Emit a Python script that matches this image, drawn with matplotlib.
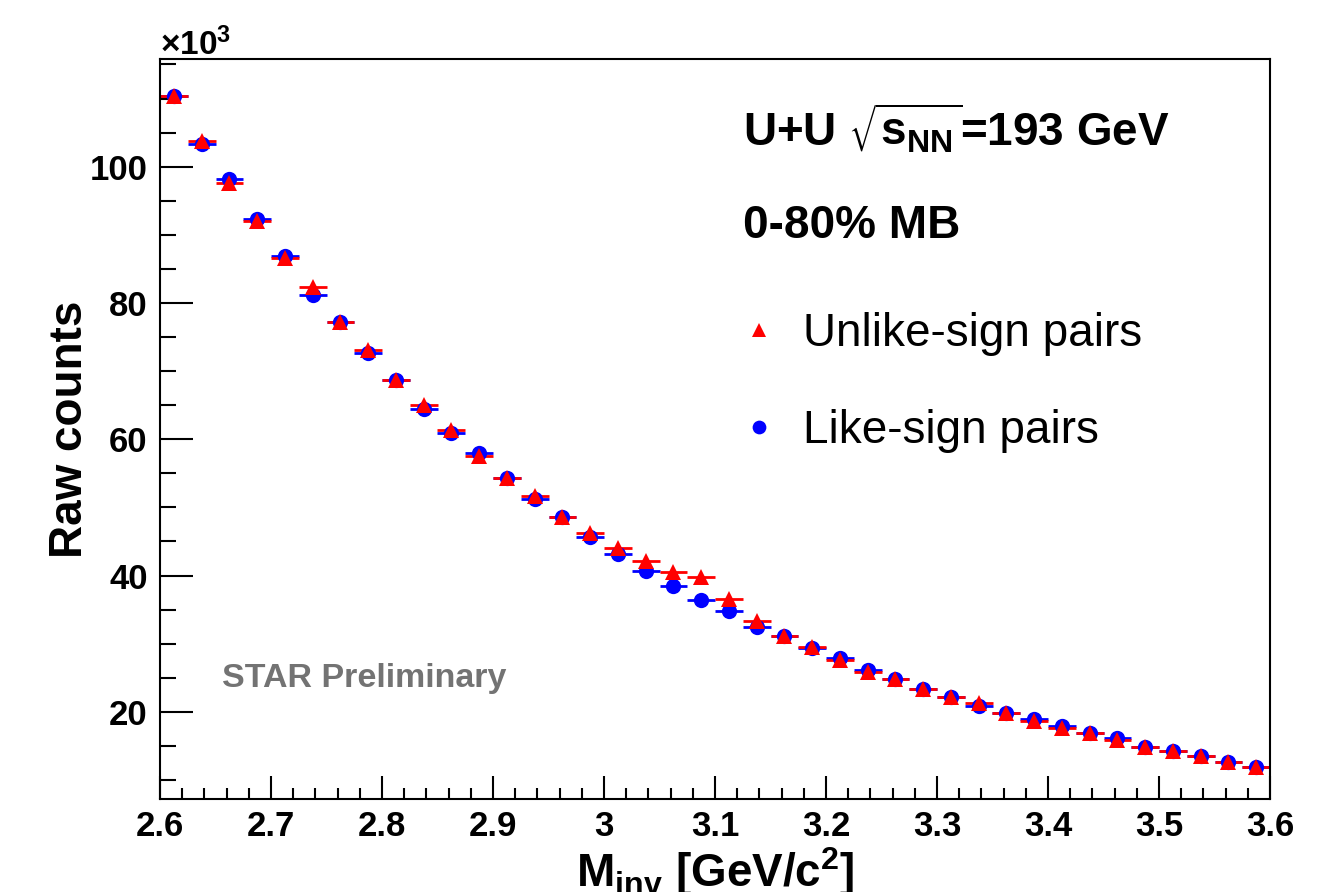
import numpy as np
import matplotlib
matplotlib.use('Agg')
import matplotlib.pyplot as plt
from matplotlib.ticker import MultipleLocator, FuncFormatter

plt.rcParams['font.family'] = ['Liberation Sans', 'DejaVu Sans']
plt.rcParams['mathtext.default'] = 'regular'

# histogram binning, 40 bins of 25 MeV
bin_edges = np.linspace(2.6, 3.6, 41)
mass = 0.5 * (bin_edges[:-1] + bin_edges[1:])
half_width = 0.5 * (bin_edges[1:] - bin_edges[:-1])

# raw counts in units of 10^3
unlike = [110.3, 103.8, 97.6, 92.0, 86.6, 82.3, 77.2, 73.1, 68.7, 65.0,
          61.4, 57.6, 54.3, 51.7, 48.6, 46.3, 44.0, 42.2, 40.5, 39.8,
          36.6, 33.3, 31.1, 29.5, 27.6, 25.9, 24.8, 23.4, 22.2, 21.3,
          19.8, 18.7, 17.6, 16.9, 15.8, 14.9, 14.2, 13.5, 12.6, 11.9]
like = [110.3, 103.3, 98.2, 92.3, 86.9, 81.1, 77.2, 72.7, 68.7, 64.4,
        60.9, 58.0, 54.3, 51.2, 48.6, 45.7, 43.1, 40.6, 38.4, 36.4,
        34.8, 32.5, 31.1, 29.3, 27.9, 26.1, 24.8, 23.4, 22.2, 20.9,
        19.8, 19.0, 17.9, 16.9, 16.2, 14.9, 14.2, 13.5, 12.6, 11.9]

W, H = 1342, 892
fig = plt.figure(figsize=(W / 100, H / 100), dpi=100)
ax = fig.add_axes([160 / W, (H - 799) / H, 1110 / W, 740 / H])

ax.errorbar(mass, like, xerr=half_width, fmt='none', ecolor='blue',
            elinewidth=2, capsize=0, zorder=2)
ax.errorbar(mass, unlike, xerr=half_width, fmt='none', ecolor='red',
            elinewidth=2, capsize=0, zorder=2)
h_like, = ax.plot(mass, like, 'o', color='blue', ms=11, mew=0, zorder=3,
                  label='Like-sign pairs')
h_unlike, = ax.plot(mass, unlike, '^', color='red', ms=11, mew=0, zorder=4,
                    label='Unlike-sign pairs')

ax.set_xlim(2.6, 3.6)
ax.set_ylim(7.2, 115.8)

ax.xaxis.set_major_locator(MultipleLocator(0.1))
ax.xaxis.set_minor_locator(MultipleLocator(0.02))
ax.yaxis.set_major_locator(MultipleLocator(20))
ax.yaxis.set_minor_locator(MultipleLocator(5))
ax.xaxis.set_major_formatter(FuncFormatter(lambda v, p: '%g' % round(v, 3)))
ax.yaxis.set_major_formatter(FuncFormatter(lambda v, p: '%g' % v))

ax.tick_params(axis='both', which='both', direction='in', width=1.5,
               top=False, right=False, labelsize=25)
ax.tick_params(axis='y', which='major', length=24, pad=9)
ax.tick_params(axis='y', which='minor', length=11.5)
ax.tick_params(axis='x', which='major', length=16.5, pad=8)
ax.tick_params(axis='x', which='minor', length=8)
for lab in ax.get_xticklabels() + ax.get_yticklabels():
    lab.set_fontweight('bold')
for sp in ax.spines.values():
    sp.set_linewidth(1.5)

ax.set_xlabel('M$_{inv}$ [GeV/c$^{2}$]', fontsize=33, fontweight='bold')
ax.xaxis.label.set_va('baseline')
ax.xaxis.set_label_coords(0.5, (799 - 887) / 740)
ax.set_ylabel('Raw counts', fontsize=33, fontweight='bold')
ax.yaxis.set_label_coords(-0.061, 0.5)

fig.text(160 / W, 1 - 55 / H, r'$\times$10$^{3}$', fontsize=24,
         fontweight='bold', va='baseline')
fig.text(743 / W, 1 - 145 / H, r'U+U $\sqrt{s_{NN}}$=193 GeV', fontsize=33,
         fontweight='bold', va='baseline')
fig.text(743 / W, 1 - 238 / H, '0-80% MB', fontsize=33, fontweight='bold',
         va='baseline')
fig.text(222 / W, 1 - 687 / H, 'STAR Preliminary', fontsize=24.5,
         fontweight='bold', color='#737373', va='baseline')

ax.legend(handles=[h_unlike, h_like], loc='upper left',
          bbox_to_anchor=(740.7 / W, 1 - 311.6 / H),
          bbox_transform=fig.transFigure, frameon=False, fontsize=33,
          borderpad=0, borderaxespad=0, handlelength=0.8,
          handletextpad=0.56, labelspacing=1.17, markerscale=0.9)

fig.savefig('out.png', dpi=100)
